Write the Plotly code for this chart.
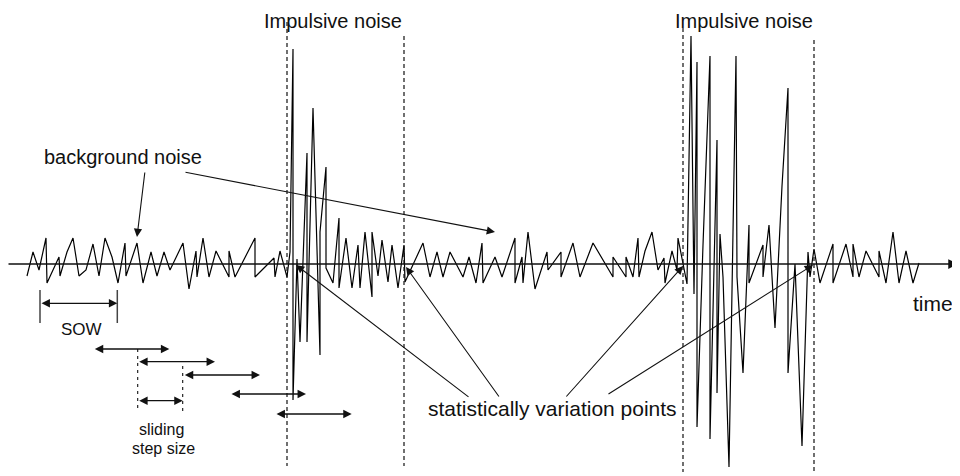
import plotly.graph_objects as go

# ---------------- data ----------------
AXIS_PY = 264  # pixel row of the time axis

# time samples (horizontal position) and signal amplitudes (up = positive)
signal_t = [27, 33, 39, 46, 47, 59, 60, 67, 73, 79, 86, 93, 99, 105, 112, 118, 125, 126, 137, 143,
            151, 157, 164, 170, 183, 189, 196, 197, 203, 209, 216, 229, 229, 235, 255, 255, 274, 275, 280, 287,
            290, 293, 293, 297, 300, 303, 307, 307, 313, 320, 320, 326, 326, 333, 339, 339, 346, 352, 358, 360,
            365, 372, 372, 378, 382, 388, 392, 398, 404, 405,
            423, 430, 437, 443, 450, 463, 469, 476, 482, 483, 495, 502, 515, 515, 522, 523, 528, 535, 547, 548,
            561, 561, 573, 580, 593, 613, 613, 626, 626, 633, 638, 639, 645, 652, 658, 664, 665, 672, 677, 678, 683,
            687, 691, 694, 697, 697, 703, 710, 710, 717, 717, 720, 723, 729, 736, 737, 743, 749, 749, 756, 763,
            763, 769, 775, 782, 788, 788, 795, 802, 808, 810,
            814, 820, 833, 833, 846, 853, 853, 859, 866, 879, 879, 886, 893, 899, 906, 913, 919]
signal_a = [-12, 12, -6, 26, -19, 7, -12, 12, 26, -12, -6, 20, -12, 26, 7, -19, 21, -12, 21, -19,
            12, -12, 12, -6, 21, -25, 13, -13, 26, -13, 13, -13, 13, -13, 26, -13, 6, -13, 13, -13,
            12, 215, -136, 5, -78, 12, 111, -78, 156, -91, 32, 97, -4, -19, 46, -24, 26, -24, 19, -24,
            32, -33, 32, -12, 24, -18, 19, -24, 19, -18,
            21, -13, 12, -13, 12, -13, 7, -19, 21, -19, 7, -13, 26, -19, 7, -19, 32, -25, 12, -6,
            12, -13, 21, -13, 21, -13, 7, -13, 7, -13, 26, -13, 13, 32, -6, 6, -19, 13, -6, 26, 0,
            -20, 228, -30, 202, -163, 19, 208, -175, 124, -129, 30, -13, -203, 208, -13, -109, 39, -19, 0, 19,
            -13, 39, -64, 78, 176, -109, 0, -182, 12, -13,
            15, -19, 20, -19, 20, -13, 20, -13, 13, -13, 13, -19, 32, -19, 13, -19, 1]

title_labels = ["Impulsive noise", "Impulsive noise"]
bg_label = "background noise"
svp_label = "statistically variation points"
time_label = "time"
sow_label = "SOW"
step_labels = ["sliding", "step size"]

# ---------------- figure ----------------
PAGE_OFFSET = 8  # default body margin of the html page

def Y(py):
    return AXIS_PY - py

FONT = "Liberation Sans, Arial, Helvetica, sans-serif"
INK = "#111111"

fig = go.Figure()
fig.add_trace(go.Scatter(x=signal_t, y=signal_a, mode="lines",
                         line=dict(color="black", width=1.2), hoverinfo="skip"))

shapes = []
def dashed(x, y0, y1, dash="4px,3px", w=1.2):
    shapes.append(dict(type="line", xref="x", yref="y", x0=x, x1=x, y0=Y(y0), y1=Y(y1),
                       line=dict(color=INK, width=w, dash=dash)))

dashed(287, 22, 466)
dashed(404, 36, 466)
dashed(683, 28, 472)
dashed(814, 40, 472)
dashed(137.7, 349, 410, "3px,4px", 1.1)
dashed(182.7, 366, 413, "3px,4px", 1.1)
for xt in (40, 117.3):
    shapes.append(dict(type="line", xref="x", yref="y", x0=xt, x1=xt, y0=Y(290), y1=Y(323),
                       line=dict(color="#444444", width=1.5)))

ann = []
def arrow(x0, y0, x1, y1, both=False, w=1.1, size=1.5):
    ann.append(dict(x=x1, y=Y(y1), ax=x0, ay=Y(y0), xref="x", yref="y", axref="x", ayref="y",
                    text="", showarrow=True, arrowhead=2, arrowsize=size, arrowwidth=w,
                    arrowcolor=INK, arrowside="end+start" if both else "end",
                    startarrowhead=2, startarrowsize=size, standoff=0, startstandoff=0))

# time axis
arrow(7, AXIS_PY, 958, AXIS_PY, w=1.5, size=1.3)
# background noise arrows
arrow(145, 171, 137, 237)
arrow(184, 172, 495, 232)
# statistically variation points arrows
arrow(470, 398, 296, 265)
arrow(500, 398, 406, 267)
arrow(565, 398, 683, 266)
arrow(607, 395, 813, 265)
# SOW + sliding windows
arrow(40, 303.3, 117.3, 303.3, both=True, w=1.3, size=1.3)
arrow(93.3, 349, 169.3, 349, both=True, w=1.3, size=1.3)
arrow(137.7, 361.7, 215, 361.7, both=True, w=1.3, size=1.3)
arrow(183.3, 375, 260, 375, both=True, w=1.3, size=1.3)
arrow(230, 394, 306, 394, both=True, w=1.3, size=1.3)
arrow(275, 414, 351.7, 414, both=True, w=1.3, size=1.3)
arrow(137.7, 400.7, 182.7, 400.7, both=True, w=1.3, size=1.3)

def text(s, x, py, size, xanchor="center", yanchor="middle"):
    ann.append(dict(x=x, y=Y(py), xref="x", yref="y", text=s, showarrow=False,
                    xanchor=xanchor, yanchor=yanchor, borderpad=0,
                    font=dict(family=FONT, size=size, color=INK)))

text(title_labels[0], 333, 8.5, 20, yanchor="top")
text(title_labels[1], 744, 8.5, 20, yanchor="top")
text(bg_label, 123, 157, 20)
text(svp_label, 678, 408, 21, xanchor="right")
text(time_label, 933, 303, 21)
text(sow_label, 81, 329, 17)
text(step_labels[0], 161, 429, 16)
text(step_labels[1], 163, 448, 16)

fig.update_layout(
    width=960 - PAGE_OFFSET, height=476 - PAGE_OFFSET, margin=dict(l=0, r=0, t=0, b=0),
    paper_bgcolor="white", plot_bgcolor="white", showlegend=False,
    xaxis=dict(range=[PAGE_OFFSET, 960], visible=False, fixedrange=True),
    yaxis=dict(range=[Y(476), Y(PAGE_OFFSET)], visible=False, fixedrange=True),
    shapes=shapes, annotations=ann,
)

fig.write_html("out.html")
